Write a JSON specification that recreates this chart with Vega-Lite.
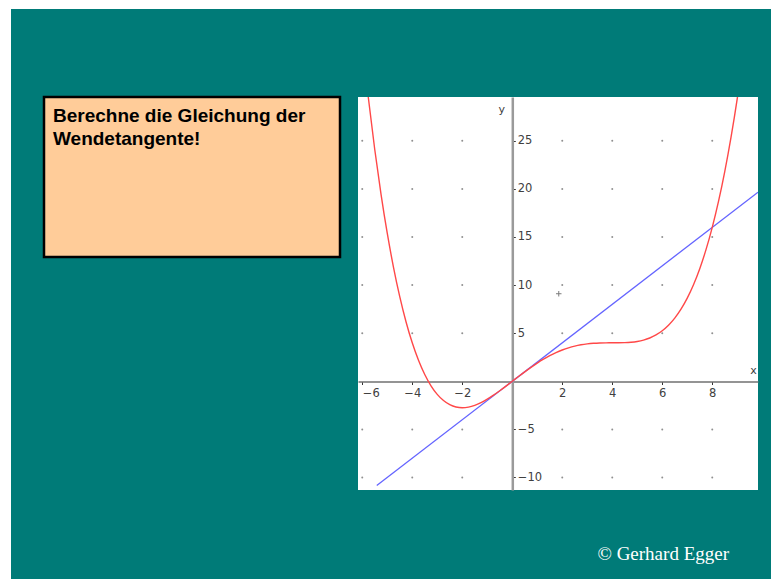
{
  "$schema": "https://vega.github.io/schema/vega-lite/v6.json",
  "padding": 0,
  "background": "#007B78",
  "config": {"view": {"stroke": null}},
  "datasets": {
    "curve": [
      {"x": -5.8, "y": 30.471}, {"x": -5.75, "y": 29.344}, {"x": -5.5, "y": 24.095}, {"x": -5.25, "y": 19.458},
      {"x": -5.0, "y": 15.391}, {"x": -4.75, "y": 11.85}, {"x": -4.5, "y": 8.798}, {"x": -4.25, "y": 6.194},
      {"x": -4.0, "y": 4.0}, {"x": -3.75, "y": 2.182}, {"x": -3.5, "y": 0.704}, {"x": -3.25, "y": -0.466},
      {"x": -3.0, "y": -1.359}, {"x": -2.75, "y": -2.006}, {"x": -2.5, "y": -2.437}, {"x": -2.25, "y": -2.676},
      {"x": -2.0, "y": -2.75}, {"x": -1.75, "y": -2.683}, {"x": -1.5, "y": -2.499}, {"x": -1.25, "y": -2.218},
      {"x": -1.0, "y": -1.859}, {"x": -0.75, "y": -1.442}, {"x": -0.5, "y": -0.983}, {"x": -0.25, "y": -0.498},
      {"x": 0.0, "y": 0.0}, {"x": 0.25, "y": 0.498}, {"x": 0.5, "y": 0.985}, {"x": 0.75, "y": 1.452},
      {"x": 1.0, "y": 1.891}, {"x": 1.25, "y": 2.294}, {"x": 1.5, "y": 2.657}, {"x": 1.75, "y": 2.977},
      {"x": 2.0, "y": 3.25}, {"x": 2.25, "y": 3.476}, {"x": 2.5, "y": 3.657}, {"x": 2.75, "y": 3.794},
      {"x": 3.0, "y": 3.891}, {"x": 3.25, "y": 3.952}, {"x": 3.5, "y": 3.986}, {"x": 3.75, "y": 3.998},
      {"x": 4.0, "y": 4.0}, {"x": 4.25, "y": 4.002}, {"x": 4.5, "y": 4.016}, {"x": 4.75, "y": 4.058},
      {"x": 5.0, "y": 4.141}, {"x": 5.25, "y": 4.282}, {"x": 5.5, "y": 4.501}, {"x": 5.75, "y": 4.816},
      {"x": 6.0, "y": 5.25}, {"x": 6.25, "y": 5.824}, {"x": 6.5, "y": 6.564}, {"x": 6.75, "y": 7.494},
      {"x": 7.0, "y": 8.641}, {"x": 7.25, "y": 10.034}, {"x": 7.5, "y": 11.704}, {"x": 7.75, "y": 13.681},
      {"x": 8.0, "y": 16.0}, {"x": 8.25, "y": 18.694}, {"x": 8.5, "y": 21.797}, {"x": 8.75, "y": 25.351},
      {"x": 9.0, "y": 29.391}, {"x": 9.1, "y": 31.152}
    ],
    "tangent": [
      {"x": -5.42, "y": -10.84},
      {"x": 9.83, "y": 19.66}
    ],
    "marker": [
      {"x": 1.86, "y": 9.1}
    ],
    "grid": [
      {"x": -6, "y": -10}, {"x": -6, "y": -5}, {"x": -6, "y": 5}, {"x": -6, "y": 10}, {"x": -6, "y": 15}, {"x": -6, "y": 20}, {"x": -6, "y": 25},
      {"x": -4, "y": -10}, {"x": -4, "y": -5}, {"x": -4, "y": 5}, {"x": -4, "y": 10}, {"x": -4, "y": 15}, {"x": -4, "y": 20}, {"x": -4, "y": 25},
      {"x": -2, "y": -10}, {"x": -2, "y": -5}, {"x": -2, "y": 5}, {"x": -2, "y": 10}, {"x": -2, "y": 15}, {"x": -2, "y": 20}, {"x": -2, "y": 25},
      {"x": 2, "y": -10}, {"x": 2, "y": -5}, {"x": 2, "y": 5}, {"x": 2, "y": 10}, {"x": 2, "y": 15}, {"x": 2, "y": 20}, {"x": 2, "y": 25},
      {"x": 4, "y": -10}, {"x": 4, "y": -5}, {"x": 4, "y": 5}, {"x": 4, "y": 10}, {"x": 4, "y": 15}, {"x": 4, "y": 20}, {"x": 4, "y": 25},
      {"x": 6, "y": -10}, {"x": 6, "y": -5}, {"x": 6, "y": 5}, {"x": 6, "y": 10}, {"x": 6, "y": 15}, {"x": 6, "y": 20}, {"x": 6, "y": 25},
      {"x": 8, "y": -10}, {"x": 8, "y": -5}, {"x": 8, "y": 5}, {"x": 8, "y": 10}, {"x": 8, "y": 15}, {"x": 8, "y": 20}, {"x": 8, "y": 25}
    ]
  },
  "spacing": 0,
  "bounds": "flush",
  "hconcat": [
    {
      "width": 11,
      "height": 579,
      "view": {"fill": "white"},
      "data": {"values": []},
      "mark": "rect",
      "encoding": {}
    },
    {
      "spacing": 88,
      "bounds": "flush",
      "vconcat": [
        {
          "width": 760,
          "height": 9,
          "view": {"fill": "white"},
          "data": {"values": []},
          "mark": "rect",
          "encoding": {}
        },
        {
          "spacing": 18,
          "bounds": "flush",
          "hconcat": [
            {
              "width": 15,
              "height": 10,
              "data": {"values": []},
              "mark": "rect",
              "encoding": {}
            },
            {
              "width": 296,
              "height": 160,
              "view": {"fill": "#FFCC99", "stroke": "#000000", "strokeWidth": 2.5},
              "title": {
                "text": ["Berechne die Gleichung der", "Wendetangente!"],
                "orient": "top",
                "anchor": "start",
                "frame": "group",
                "offset": -52,
                "baseline": "top",
                "dx": 9,
                "font": "Liberation Sans",
                "fontSize": 19,
                "fontWeight": "bold",
                "color": "#000000",
                "lineHeight": 23
              },
              "data": {"values": []},
              "mark": "rect",
              "encoding": {}
            },
            {
              "width": 400,
              "height": 393,
              "view": {"fill": "white"},
              "title": {
                "text": "© Gerhard Egger",
                "orient": "bottom",
                "anchor": "end",
                "frame": "group",
                "offset": 55,
                "dx": -29,
                "font": "Liberation Serif",
                "fontSize": 19,
                "fontWeight": "normal",
                "color": "#ffffff"
              },
              "layer": [
                {
                  "data": {"name": "grid"},
                  "mark": {"type": "point", "filled": true, "size": 4, "color": "#909090", "opacity": 1},
                  "encoding": {
                    "x": {
                      "field": "x",
                      "type": "quantitative",
                      "scale": {"domain": [-6.17, 9.83], "nice": false, "zero": false},
                      "axis": {
                        "orient": "bottom",
                        "offset": -108.5,
                        "values": [-6, -4, -2, 2, 4, 6, 8],
                        "grid": false,
                        "domainColor": "#707070",
                        "domainWidth": 1.5,
                        "tickColor": "#333333",
                        "tickSize": 3,
                        "tickWidth": 1,
                        "labelFont": "DejaVu Sans",
                        "labelFontSize": 11.5,
                        "labelColor": "#404040",
                        "labelPadding": 3,
                        "labelFlush": 10,
                        "title": "x",
                        "titleFont": "DejaVu Sans",
                        "titleFontSize": 11,
                        "titleFontWeight": "normal",
                        "titleColor": "#404040",
                        "titleX": 395,
                        "titleY": -11,
                        "titleAlign": "center",
                        "titleBaseline": "middle"
                      }
                    },
                    "y": {
                      "field": "y",
                      "type": "quantitative",
                      "scale": {"domain": [-11.3, 29.55], "nice": false, "zero": false},
                      "axis": {
                        "orient": "right",
                        "offset": -245.7,
                        "values": [-10, -5, 5, 10, 15, 20, 25],
                        "grid": false,
                        "domainColor": "#9a9a9a",
                        "domainWidth": 2.5,
                        "tickColor": "#333333",
                        "tickSize": 3,
                        "tickWidth": 1,
                        "labelFont": "DejaVu Sans",
                        "labelFontSize": 11.5,
                        "labelColor": "#404040",
                        "labelPadding": 2,
                        "title": "y",
                        "titleFont": "DejaVu Sans",
                        "titleFontSize": 11,
                        "titleFontWeight": "normal",
                        "titleColor": "#404040",
                        "titleAngle": 0,
                        "titleX": -11,
                        "titleY": 12,
                        "titleAlign": "center",
                        "titleBaseline": "middle"
                      }
                    }
                  }
                },
                {
                  "data": {"name": "tangent"},
                  "mark": {"type": "line", "clip": true, "color": "#6464ff", "strokeWidth": 1.3},
                  "encoding": {
                    "x": {"field": "x", "type": "quantitative"},
                    "y": {"field": "y", "type": "quantitative"}
                  }
                },
                {
                  "data": {"name": "curve"},
                  "mark": {"type": "line", "clip": true, "color": "#ff4848", "strokeWidth": 1.4, "interpolate": "monotone"},
                  "encoding": {
                    "x": {"field": "x", "type": "quantitative"},
                    "y": {"field": "y", "type": "quantitative"}
                  }
                },
                {
                  "data": {"name": "marker"},
                  "mark": {"type": "point", "shape": "M-1,0H1M0,-1V1", "size": 30, "filled": false, "color": "#444444", "strokeWidth": 1},
                  "encoding": {
                    "x": {"field": "x", "type": "quantitative"},
                    "y": {"field": "y", "type": "quantitative"}
                  }
                }
              ]
            }
          ]
        }
      ]
    }
  ]
}
